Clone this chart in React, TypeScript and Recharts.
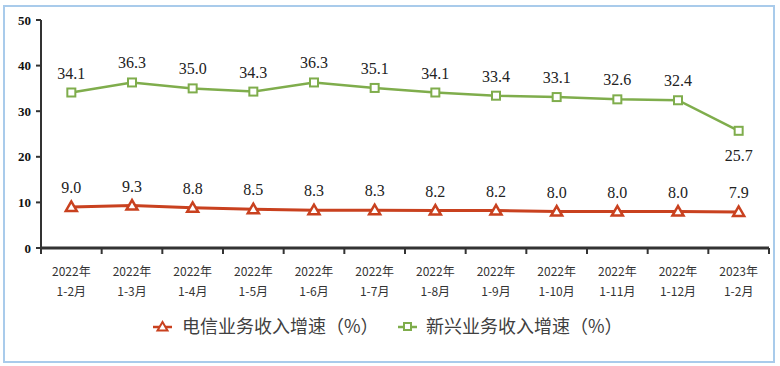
import * as React from 'react';
import { LineChart, Line, XAxis, YAxis, LabelList } from 'recharts';

const years = ['2022年', '2022年', '2022年', '2022年', '2022年', '2022年', '2022年', '2022年', '2022年', '2022年', '2022年', '2023年'];
const months = ['1-2月', '1-3月', '1-4月', '1-5月', '1-6月', '1-7月', '1-8月', '1-9月', '1-10月', '1-11月', '1-12月', '1-2月'];
const telecom = [9.0, 9.3, 8.8, 8.5, 8.3, 8.3, 8.2, 8.2, 8.0, 8.0, 8.0, 7.9];
const emerging = [34.1, 36.3, 35.0, 34.3, 36.3, 35.1, 34.1, 33.4, 33.1, 32.6, 32.4, 25.7];
const yTicks = [0, 10, 20, 30, 40, 50];

const RED = '#C9411F';
const GREEN = '#7FAD4C';
const AXIS = '#333333';
const HALF_BAND = 30.33;

const data = years.map((y, i) => ({
    name: `${y}|${months[i]}`,
    telecom: telecom[i],
    emerging: emerging[i],
}));

const TriangleDot = (props: any) => {
    const { cx, cy } = props;
    if (cx == null || cy == null) return null;
    return (
        <polygon
            points={`${cx},${cy - 5.5} ${cx - 5.5},${cy + 4} ${cx + 5.5},${cy + 4}`}
            fill="#fff"
            stroke={RED}
            strokeWidth={2.5}
        />
    );
};

const SquareDot = (props: any) => {
    const { cx, cy } = props;
    if (cx == null || cy == null) return null;
    return <rect x={cx - 4} y={cy - 4} width={8} height={8} fill="#fff" stroke={GREEN} strokeWidth={2} />;
};

// two-line category label plus the boundary tick marks between categories
const CategoryTick = (props: any) => {
    const { x, y, payload, index } = props;
    const [a, b] = String(payload.value).split('|');
    const y0 = y - 8;
    return (
        <g>
            <line x1={x - HALF_BAND} y1={y0} x2={x - HALF_BAND} y2={y0 + 6} stroke={AXIS} strokeWidth={2} />
            {index === years.length - 1 && (
                <line x1={x + HALF_BAND} y1={y0} x2={x + HALF_BAND} y2={y0 + 6} stroke={AXIS} strokeWidth={2} />
            )}
            <text x={x} y={y} textAnchor="middle" fontSize={12} fill="#333" fontFamily="'Noto Sans CJK SC', sans-serif">
                <tspan x={x} dy={20}>{a}</tspan>
                <tspan x={x} dy={20}>{b}</tspan>
            </text>
        </g>
    );
};

const labelStyle = { fontSize: 16, fill: '#222', fontFamily: "'Liberation Serif', 'Times New Roman', serif" };

const EmergingLabel = (props: any) => {
    const { x, y, value, index } = props;
    const below = index === years.length - 1;
    return (
        <text x={x} y={below ? y + 30 : y - 14} textAnchor="middle" style={labelStyle}>
            {Number(value).toFixed(1)}
        </text>
    );
};

const TelecomLabel = (props: any) => {
    const { x, y, value } = props;
    return (
        <text x={x} y={y - 14} textAnchor="middle" style={labelStyle}>
            {Number(value).toFixed(1)}
        </text>
    );
};

const legendText = { fontSize: 18, fill: '#404040', fontFamily: "'Noto Sans CJK SC', sans-serif" };

export default function App() {
    return (
        <div style={{ position: 'absolute', left: 0, top: 0, width: 780, height: 366, background: '#fff' }}>
            <LineChart width={780} height={366} data={data} margin={{ top: 20, right: 11, bottom: 0, left: 0 }}>
                <YAxis
                    domain={[0, 50]}
                    ticks={yTicks}
                    width={41}
                    axisLine={{ stroke: AXIS, strokeWidth: 2 }}
                    tickLine={{ stroke: AXIS, strokeWidth: 2 }}
                    tickSize={5}
                    tickMargin={5}
                    tick={{ fontSize: 13, fontWeight: 'bold', fill: '#111', fontFamily: "'Liberation Serif', serif" }}
                    interval={0}
                />
                <XAxis
                    dataKey="name"
                    height={118}
                    axisLine={{ stroke: AXIS, strokeWidth: 3 }}
                    tickLine={false}
                    interval={0}
                    padding={{ left: HALF_BAND, right: HALF_BAND }}
                    tick={<CategoryTick />}
                />
                <Line
                    dataKey="emerging"
                    stroke={GREEN}
                    strokeWidth={2.5}
                    dot={<SquareDot />}
                    isAnimationActive={false}
                >
                    <LabelList dataKey="emerging" content={<EmergingLabel />} />
                </Line>
                <Line
                    dataKey="telecom"
                    stroke={RED}
                    strokeWidth={3}
                    dot={<TriangleDot />}
                    isAnimationActive={false}
                >
                    <LabelList dataKey="telecom" content={<TelecomLabel />} />
                </Line>
            </LineChart>
            <svg width={780} height={366} style={{ position: 'absolute', left: 0, top: 0, pointerEvents: 'none' }}>
                <rect x={4} y={6} width={770} height={356} fill="none" stroke="#A9CBEB" strokeWidth={2} />
                <line x1={153} y1={327} x2={172} y2={327} stroke={RED} strokeWidth={2.5} />
                <polygon points="162.5,322 157.5,330.5 167.5,330.5" fill="#fff" stroke={RED} strokeWidth={2} />
                <text x={182} y={333} style={legendText}>电信业务收入增速（%）</text>
                <line x1={398} y1={327} x2={417} y2={327} stroke={GREEN} strokeWidth={2.5} />
                <rect x={404} y={323} width={7} height={7} fill="#fff" stroke={GREEN} strokeWidth={2} />
                <text x={426} y={333} style={legendText}>新兴业务收入增速（%）</text>
            </svg>
        </div>
    );
}
